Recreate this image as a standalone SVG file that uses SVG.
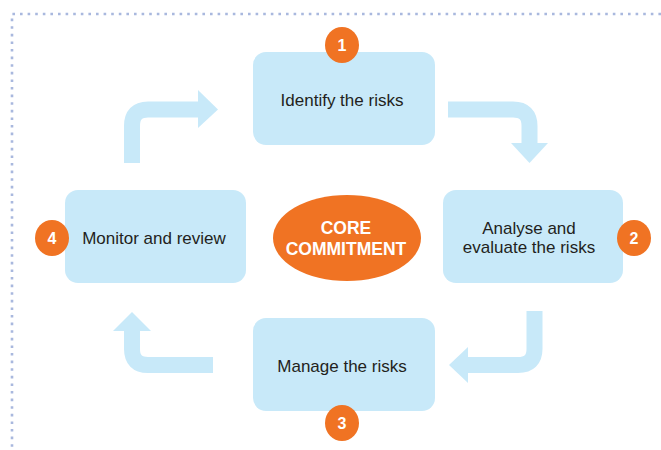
<svg xmlns="http://www.w3.org/2000/svg" width="661" height="450" viewBox="0 0 661 450">
<style>
.box{fill:#c8e9f9}
.arrow{fill:none;stroke:#c8e9f9;stroke-width:16}
.head{fill:#c8e9f9}
.lbl{font-family:"Liberation Sans",Arial,sans-serif;font-size:17px;fill:#231f20;text-anchor:middle}
.num{fill:#f07323}
.numt{font-family:"Liberation Sans",Arial,sans-serif;font-size:16px;font-weight:bold;fill:#ffffff;text-anchor:middle}
.core{font-family:"Liberation Sans",Arial,sans-serif;font-size:17.5px;font-weight:bold;fill:#ffffff;text-anchor:middle}
.dots{fill:none;stroke:#a9b8de;stroke-width:2.6;stroke-dasharray:2.6 5}
</style>
<rect width="661" height="450" fill="#ffffff"/>
<path class="dots" d="M661,14 H12 V450"/>
<g id="connectors">
  <path class="arrow" d="M132,163 V126 Q132,109.5 148,109.5 H200"/>
  <polygon class="head" points="198,90 218,109.5 198,128"/>
  <path class="arrow" d="M448,109.5 H513 Q529.5,109.5 529.5,126 V145"/>
  <polygon class="head" points="511,143 548,143 529.5,163"/>
  <path class="arrow" d="M534.5,311 V349 Q534.5,365 518,365 H466"/>
  <polygon class="head" points="468,347 468,383 449,365"/>
  <path class="arrow" d="M213,365 H148 Q132,365 132,349 V329"/>
  <polygon class="head" points="113,331 151,331 132,312"/>
</g>
<g id="node1">
  <rect class="box" x="253" y="52" width="182" height="93" rx="13"/>
  <text class="lbl" x="342" y="106">Identify the risks</text>
  <ellipse class="num" cx="342" cy="45" rx="17" ry="18"/>
  <text class="numt" x="342" y="51">1</text>
</g>
<g id="node2">
  <rect class="box" x="443" y="190" width="180" height="93" rx="13"/>
  <text class="lbl" x="529" y="234">Analyse and</text>
  <text class="lbl" x="529" y="253">evaluate the risks</text>
  <ellipse class="num" cx="634" cy="238" rx="17" ry="18"/>
  <text class="numt" x="634" y="244">2</text>
</g>
<g id="node3">
  <rect class="box" x="253" y="318" width="182" height="93" rx="13"/>
  <text class="lbl" x="342" y="372">Manage the risks</text>
  <ellipse class="num" cx="342" cy="423" rx="17" ry="18"/>
  <text class="numt" x="342" y="429">3</text>
</g>
<g id="node4">
  <rect class="box" x="65" y="190" width="181" height="93" rx="13"/>
  <text class="lbl" x="154" y="244">Monitor and review</text>
  <ellipse class="num" cx="52" cy="238" rx="17" ry="18"/>
  <text class="numt" x="52" y="244">4</text>
</g>
<g id="core">
  <ellipse class="num" cx="347" cy="238" rx="74" ry="43"/>
  <text class="core" x="346" y="234">CORE</text>
  <text class="core" x="346" y="255">COMMITMENT</text>
</g>
</svg>
